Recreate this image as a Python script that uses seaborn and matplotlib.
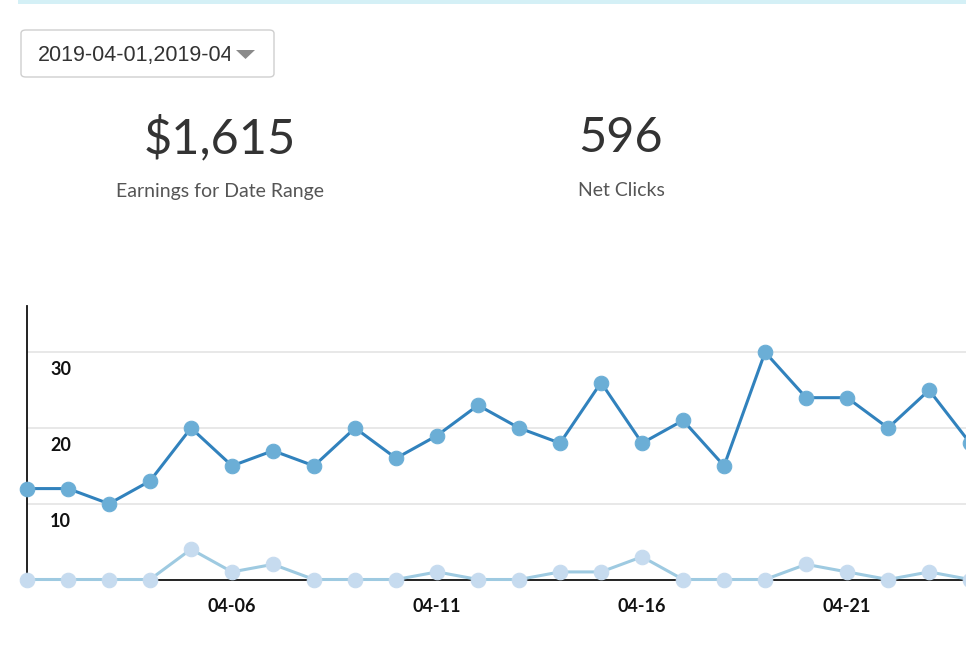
import matplotlib
matplotlib.use("Agg")
import matplotlib.pyplot as plt
import matplotlib.dates as mdates
import matplotlib.transforms as mtransforms
from matplotlib.patches import FancyBboxPatch, Rectangle, Polygon
import seaborn as sns
import pandas as pd

# ---- data ----
dates = pd.date_range("2019-04-01", periods=24, freq="D")
earnings_clicks = [12, 12, 10, 13, 20, 15, 17, 15, 20, 16, 19, 23, 20, 18, 26, 18, 21, 15, 30, 24, 24, 20, 25, 18]
second_series = [0, 0, 0, 0, 4, 1, 2, 0, 0, 0, 1, 0, 0, 1, 1, 3, 0, 0, 0, 2, 1, 0, 1, 0]
y_ticks = [10, 20, 30]
x_tick_dates = ["2019-04-06", "2019-04-11", "2019-04-16", "2019-04-21"]
dropdown_text = "2019-04-01,2019-04"
kpi_values = ["$1,615", "596"]
kpi_labels = ["Earnings for Date Range", "Net Clicks"]

df = pd.DataFrame({"date": dates, "a": earnings_clicks, "b": second_series})

sns.set_theme(style="white")
plt.rcParams["font.family"] = ["Lato", "DejaVu Sans"]

W, H = 966, 672
fig = plt.figure(figsize=(W / 100, H / 100), dpi=100)
fig.patch.set_facecolor("white")

def fx(px):
    return px / W

def fy(py):
    return 1 - py / H

# top cyan strip
fig.patches.append(Rectangle((fx(18), fy(4)), 1, 4 / H, transform=fig.transFigure,
                             facecolor="#d4f0f6", edgecolor="none"))

# dropdown box
fig.patches.append(FancyBboxPatch((fx(21), fy(77)), fx(253), 47 / H,
                                  boxstyle="round,pad=0,rounding_size=0.005",
                                  transform=fig.transFigure, facecolor="white",
                                  edgecolor="#cfcfcf", linewidth=1.0))
t = fig.text(fx(38), fy(55), dropdown_text, fontsize=15.5, color="#333333",
             va="center", ha="left", family=["Liberation Sans", "DejaVu Sans"])
clip = Rectangle((21, H - 77), 209, 47, transform=None)
t.set_clip_path(clip)
t.set_clip_on(True)
fig.patches.append(Polygon([[fx(236), fy(50)], [fx(255), fy(50)], [fx(245.5), fy(59)]],
                           closed=True, transform=fig.transFigure,
                           facecolor="#8a8a8a", edgecolor="none"))

# KPI texts
for cx, val, lab in zip([220, 621], kpi_values, kpi_labels):
    fig.text(fx(cx), fy(138), val, fontsize=35, color="#333333", ha="center",
             va="center", fontweight="normal")
    fig.text(fx(cx), fy(191), lab, fontsize=14, color="#555555", ha="center",
             va="center", fontweight="normal")

# ---- chart ----
ax = fig.add_axes([fx(27), fy(579.5), 1 - fx(27), (579.5 - 306) / H])
ax.set_facecolor("none")

sns.lineplot(data=df, x="date", y="b", ax=ax, color="#9ecae1", linewidth=2.2,
             marker="o", markersize=10.5, markerfacecolor="#c6dbef",
             markeredgecolor="#c6dbef", zorder=4)
sns.lineplot(data=df, x="date", y="a", ax=ax, color="#3182bd", linewidth=2.2,
             marker="o", markersize=10.5, markerfacecolor="#6baed6",
             markeredgecolor="#6baed6", zorder=5)
for line in ax.get_lines():
    line.set_clip_on(False)

ax.set_xlim(dates[0], dates[0] + pd.Timedelta(days=22.9))
ax.set_ylim(0, 36.1)

ax.set_yticks(y_ticks)
ax.set_yticklabels([])
ax.yaxis.grid(True, color="#e4e4e4", linewidth=1.2)
ax.xaxis.grid(False)
ax.tick_params(axis="both", length=0)

ax.set_xticks(pd.to_datetime(x_tick_dates))
ax.xaxis.set_major_formatter(mdates.DateFormatter("%m-%d"))
ax.tick_params(axis="x", pad=13, labelsize=13, labelcolor="#111111")
for lbl in ax.get_xticklabels():
    lbl.set_fontweight("bold")

ytrans = mtransforms.blended_transform_factory(ax.transAxes, ax.transData)
offset = mtransforms.ScaledTranslation(0, -9 / 100, fig.dpi_scale_trans)
for v in y_ticks:
    ax.text(23 / 939, v, str(v), transform=ytrans + offset, ha="left", va="top",
            fontsize=13, fontweight="bold", color="#111111")

for s in ["top", "right"]:
    ax.spines[s].set_visible(False)
ax.spines["left"].set_color("#111111")
ax.spines["left"].set_linewidth(1.3)
ax.spines["bottom"].set_color("#111111")
ax.spines["bottom"].set_linewidth(1.3)
ax.spines["bottom"].set_zorder(1)
ax.set_xlabel("")
ax.set_ylabel("")
if ax.get_legend() is not None:
    ax.get_legend().remove()

fig.savefig("out.png", dpi=100)
